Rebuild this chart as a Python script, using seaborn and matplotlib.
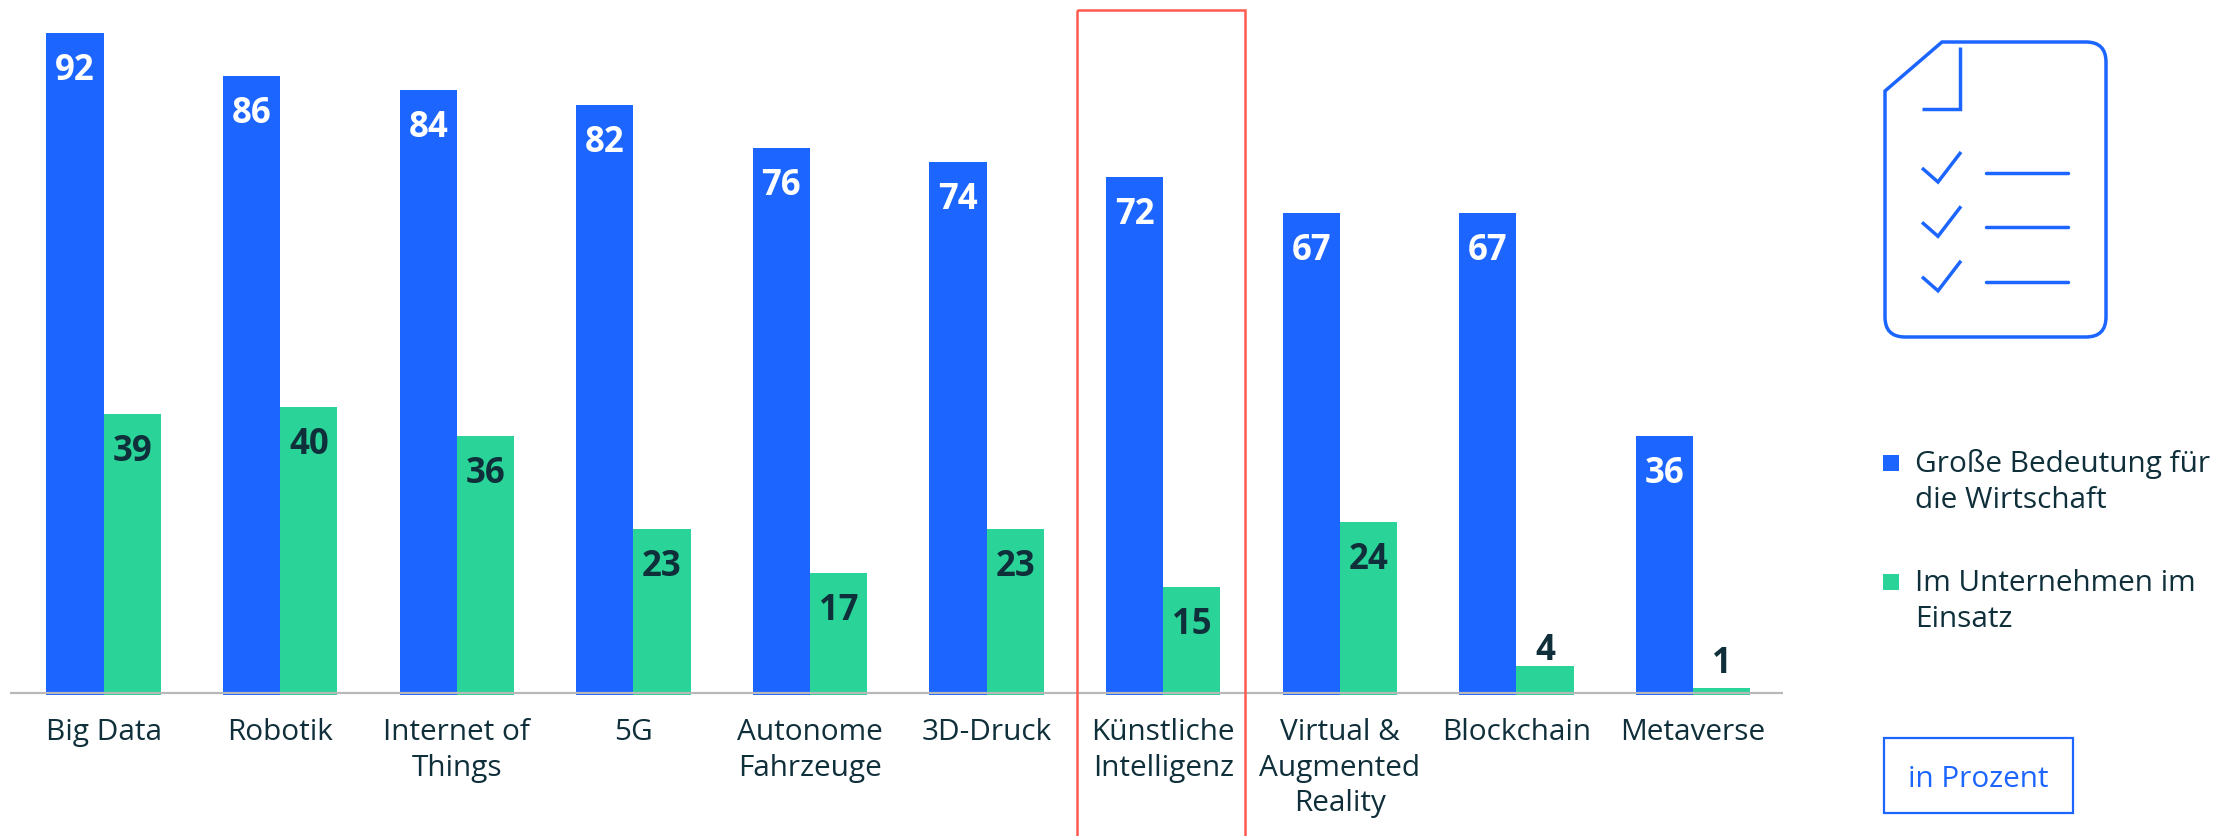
import numpy as np
import pandas as pd
import matplotlib
matplotlib.use('Agg')
import matplotlib.pyplot as plt
from matplotlib.patches import Rectangle, PathPatch
from matplotlib.path import Path
import seaborn as sns

aCategory = ['Big Data', 'Robotik', 'Internet of\nThings', '5G', 'Autonome\nFahrzeuge', '3D-Druck',
             'Künstliche\nIntelligenz', 'Virtual &\nAugmented\nReality', 'Blockchain', 'Metaverse']
aBedeutung = [92, 86, 84, 82, 76, 74, 72, 67, 67, 36]
aEinsatz = [39, 40, 36, 23, 17, 23, 15, 24, 4, 1]
sSeries_blue = 'Große Bedeutung für\ndie Wirtschaft'
sSeries_green = 'Im Unternehmen im\nEinsatz'

sBlue = '#1C66FF'
sGreen = '#2AD398'
sDark = '#0F2F3A'
sRed = '#FF5A4F'
sGrey = '#B8B8B8'

W = 2231
H = 836
dSize_text = 21.4
dSpacing = 1.3
sns.set_theme(style='white')
plt.rcParams['font.family'] = ['Open Sans', 'DejaVu Sans']

df = pd.DataFrame({'category': aCategory * 2,
                   'value': aBedeutung + aEinsatz,
                   'series': [sSeries_blue] * 10 + [sSeries_green] * 10})

fig = plt.figure(figsize=(W / 100, H / 100), dpi=100, facecolor='white')
#axes runs from the left end of the baseline to its right end, y=0 sits at 695 px
ax = fig.add_axes([10 / W, (H - 695) / H, (1783 - 10) / W, 695 / H])
sns.barplot(data=df, x='category', y='value', hue='series', order=aCategory,
            palette=[sBlue, sGreen], width=0.648, gap=0, saturation=1, legend=False,
            errorbar=None, linewidth=0, ax=ax)
ax.set_xlim(-0.530, 9.510)
ax.set_ylim(0, 695 / 7.2)
ax.set_xlabel('')
ax.set_ylabel('')
ax.set_yticks([])
sns.despine(ax=ax, left=True, bottom=True)
ax.axhline(0.25, color=sGrey, lw=1.6, zorder=5)
ax.tick_params(axis='x', length=0, pad=16.6)
for label in ax.get_xticklabels():
    label.set_fontsize(dSize_text)
    label.set_color(sDark)
    label.set_linespacing(dSpacing)
    label.set_ha('center')
    label.set_va('top')

#value labels, small bars get theirs above the bar
for container, color in zip(ax.containers, ['white', sDark]):
    for bar in container:
        value = int(bar.get_height())
        x = bar.get_x() + bar.get_width() / 2
        if value < 10:
            ax.annotate(str(value), (x, value), xytext=(0, 6 if value > 1 else 15), textcoords='offset pixels',
                        ha='center', va='baseline', color=sDark, fontsize=25, fontweight='bold')
        else:
            ax.annotate(str(value), (x, value), xytext=(0, -47), textcoords='offset pixels',
                        ha='center', va='baseline', color=color, fontsize=25, fontweight='bold')

#overlay in pixel coordinates for the decoration
over = fig.add_axes([0, 0, 1, 1], facecolor='none')
over.set_xlim(0, W)
over.set_ylim(H, 0)
over.axis('off')

over.add_patch(Rectangle((1077, 10), 168, H, fill=False, edgecolor=sRed, lw=1.8))

#icon
r = 20
aVerts = [(1942, 42), (2106 - r, 42), (2106, 42), (2106, 42 + r), (2106, 337 - r), (2106, 337), (2106 - r, 337),
          (1885 + r, 337), (1885, 337), (1885, 337 - r), (1885, 91), (1942, 42)]
aCodes = [Path.MOVETO, Path.LINETO, Path.CURVE3, Path.CURVE3, Path.LINETO, Path.CURVE3, Path.CURVE3,
          Path.LINETO, Path.CURVE3, Path.CURVE3, Path.LINETO, Path.CLOSEPOLY]
over.add_patch(PathPatch(Path(aVerts, aCodes), fill=False, edgecolor=sBlue, lw=2.5))
over.plot([1960, 1960, 1922], [47, 109, 109], color=sBlue, lw=2.5, solid_joinstyle='miter', solid_capstyle='butt')
for y0 in [172.7, 227, 281.5]:
    over.plot([1922, 1938, 1961], [y0 - 4.7, y0 + 9.3, y0 - 20.7], color=sBlue, lw=2.5,
              solid_joinstyle='miter', solid_capstyle='butt')
    over.plot([1986, 2068], [y0, y0], color=sBlue, lw=2.5, solid_capstyle='round')

#legend
for y0, y_text, color, sLabel in [(455, 508, sBlue, sSeries_blue), (574, 627, sGreen, sSeries_green)]:
    over.add_patch(Rectangle((1883, y0), 16, 16, facecolor=color, edgecolor='none'))
    over.text(1915, y_text, sLabel, color=sDark, fontsize=dSize_text, va='baseline', ha='left', linespacing=dSpacing)

over.add_patch(Rectangle((1884, 738), 189, 75, fill=False, edgecolor=sBlue, lw=1.6))
over.text(1978.5, 787, 'in Prozent', color=sBlue, fontsize=dSize_text, va='baseline', ha='center')

fig.savefig('out.png', dpi=100)
